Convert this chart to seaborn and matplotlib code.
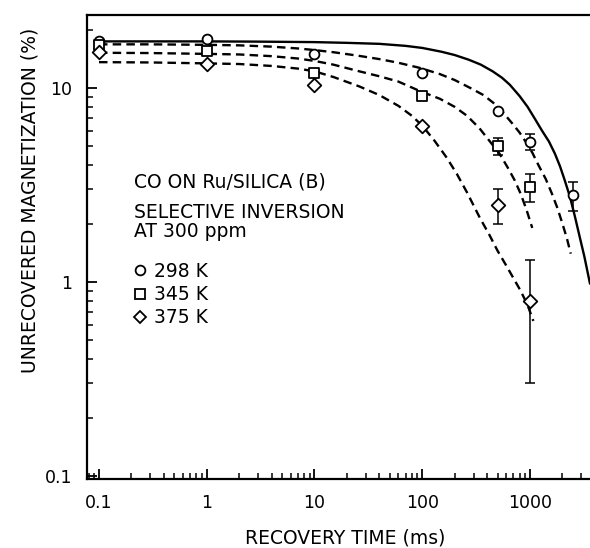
import numpy as np
import pandas as pd
import matplotlib
matplotlib.use("Agg")
import matplotlib.pyplot as plt
import matplotlib.ticker as mticker
from matplotlib.lines import Line2D
import seaborn as sns

# ---------------- data ----------------
# fitted curves
solid_t = [0.1, 0.3, 1, 3, 10, 20, 40, 70, 100, 150, 200, 270, 350, 450, 550, 650, 800,
           950, 1100, 1300, 1500, 1700, 1900, 2100, 2350, 2600, 2900, 3200, 3606]
solid_v = [17.4, 17.4, 17.4, 17.35, 17.25, 17.1, 16.9, 16.5, 16.1, 15.4, 14.8, 14.0, 13.2,
           12.2, 11.3, 10.4, 9.1, 8.0, 7.0, 6.0, 5.3, 4.6, 3.95, 3.35, 2.75, 2.2, 1.7, 1.35, 0.98]

dashA_t = [0.1, 0.3, 1, 2, 4, 7, 10, 15, 25, 40, 60, 95, 146, 200, 280, 370, 456, 560, 680,
           800, 920, 1050, 1200, 1400, 1600, 1800, 2000, 2200, 2390]
dashA_v = [16.8, 16.8, 16.7, 16.6, 16.35, 16.0, 15.7, 15.3, 14.7, 14.1, 13.5, 12.7, 11.8,
           11.0, 10.0, 9.2, 8.4, 7.5, 6.6, 5.9, 5.25, 4.65, 4.0, 3.4, 2.85, 2.4, 2.0, 1.68, 1.4]

dashB_t = [0.1, 0.3, 1, 2, 4, 7, 10, 15, 26, 40, 60, 95, 146, 200, 260, 340, 425, 520, 620,
           720, 820, 930, 1050]
dashB_v = [15.2, 15.15, 15.0, 14.9, 14.6, 14.2, 13.8, 13.2, 12.2, 11.5, 10.8, 9.65, 8.8,
           8.0, 7.2, 6.2, 5.3, 4.6, 3.9, 3.35, 2.85, 2.35, 1.9]

dashC_t = [0.1, 0.3, 1, 2, 4, 7, 10, 15, 26, 40, 60, 80, 100, 130, 169, 210, 260, 343, 420,
           500, 600, 700, 820, 950, 1075]
dashC_v = [13.6, 13.55, 13.4, 13.3, 13.0, 12.6, 12.2, 11.4, 10.2, 9.2, 8.1, 7.2, 6.4, 5.35,
           4.37, 3.6, 2.9, 2.14, 1.75, 1.45, 1.22, 1.05, 0.9, 0.76, 0.63]

# measured points with error bars
t298 = [0.1, 1, 10, 100, 500, 1000, 2500]
v298 = [17.5, 17.8, 14.9, 12.0, 7.6, 5.3, 2.8]
e298 = [0, 0, 0, 0, 0, 0.5, 0.48]

t345 = [0.1, 1, 10, 100, 500, 1000]
v345 = [16.6, 15.5, 12.0, 9.1, 5.0, 3.1]
e345 = [0, 0, 0, 0, 0.5, 0.5]

t375 = [0.1, 1, 10, 100, 500, 1000]
v375 = [15.4, 13.3, 10.4, 6.4, 2.5, 0.8]
e375 = [0, 0, 0, 0, 0.5, 0.5]

labels = ["298 K", "345 K", "375 K"]
xticks = [0.1, 1, 10, 100, 1000]
xticklabels = ["0.1", "1", "10", "100", "1000"]
yticks = [0.1, 1, 10]
yticklabels = ["0.1", "1", "10"]

# ---------------- figure ----------------
sns.set_style("ticks")
plt.rcParams["font.family"] = ["DejaVu Sans"]
for k in ["text.color", "axes.labelcolor", "xtick.color", "ytick.color", "axes.edgecolor"]:
    plt.rcParams[k] = "black"

W, H = 590, 548
fig = plt.figure(figsize=(W / 100, H / 100), dpi=100)
ax_left, ax_right, ax_top, ax_bot = 87, 590, 15, 479
ax = fig.add_axes([ax_left / W, 1 - ax_bot / H, (ax_right - ax_left) / W, (ax_bot - ax_top) / H])

ax.set_xscale("log")
ax.set_yscale("log")
ax.set_xlim(0.0774, 3606)
ax.set_ylim(0.0965, 23.8)

lw = 1.7
sns.lineplot(x=solid_t, y=solid_v, ax=ax, color="black", linewidth=lw, sort=False)
for tt, vv in [(dashA_t, dashA_v), (dashB_t, dashB_v), (dashC_t, dashC_v)]:
    sns.lineplot(x=tt, y=vv, ax=ax, color="black", linewidth=lw, sort=False,
                 linestyle=(0, (3.6, 2.2)))

ekw = dict(fmt="none", ecolor="black", elinewidth=1.1, capsize=3.5, capthick=1.1)
ax.errorbar(t298, v298, yerr=e298, **ekw)
ax.errorbar(t345, v345, yerr=e345, **ekw)
ax.errorbar(t375, v375, yerr=e375, **ekw)

mkw = dict(ax=ax, facecolor="white", edgecolor="black", linewidth=1.3, zorder=5)
sns.scatterplot(x=t298, y=v298, marker="o", s=50, **mkw)
sns.scatterplot(x=t345, y=v345, marker="s", s=42, **mkw)
sns.scatterplot(x=t375, y=v375, marker="D", s=48, **mkw)

for side in ["left", "bottom", "top"]:
    ax.spines[side].set_linewidth(1.6)
ax.spines["right"].set_visible(False)

ax.set_xticks(xticks)
ax.set_xticklabels(xticklabels)
ax.set_yticks(yticks)
ax.set_yticklabels(yticklabels)
ax.xaxis.set_minor_locator(mticker.LogLocator(base=10, subs=np.arange(2, 10), numticks=20))
ax.yaxis.set_minor_locator(mticker.LogLocator(base=10, subs=np.arange(2, 10), numticks=20))
ax.xaxis.set_minor_formatter(mticker.NullFormatter())
ax.yaxis.set_minor_formatter(mticker.NullFormatter())
ax.tick_params(which="major", direction="in", length=7.5, width=1.3, labelsize=12.5,
               top=False, right=False)
ax.tick_params(which="minor", direction="in", length=4, width=1.1, top=False, right=False)
ax.tick_params(axis="x", which="major", pad=11)
ax.tick_params(axis="y", which="major", pad=10.5)

FS = 13.5
fig.text(345 / W, 1 - 538 / H, "RECOVERY TIME (ms)", ha="center", va="center", fontsize=FS)
fig.text(30 / W, 1 - 200 / H, "UNRECOVERED MAGNETIZATION (%)", ha="center", va="center",
         rotation=90, fontsize=FS)

tx = 134.5 / W
fig.text(tx, 1 - 182 / H, "CO ON Ru/SILICA (B)", ha="left", va="center", fontsize=FS)
fig.text(tx, 1 - 212 / H, "SELECTIVE INVERSION", ha="left", va="center", fontsize=FS)
fig.text(tx, 1 - 232 / H, "AT 300 ppm", ha="left", va="center", fontsize=FS)

hkw = dict(linestyle="none", markerfacecolor="white", markeredgecolor="black", markeredgewidth=1.3)
handles = [Line2D([], [], marker="o", markersize=7, **hkw),
           Line2D([], [], marker="s", markersize=6.5, **hkw),
           Line2D([], [], marker="D", markersize=6.5, **hkw)]
fig.legend(handles, labels, loc="upper left", bbox_to_anchor=(132 / W, 1 - 262 / H),
           frameon=False, fontsize=FS, handlelength=0.8, handletextpad=0.4,
           labelspacing=0.22, borderaxespad=0, borderpad=0)

fig.savefig("out.png", dpi=100)
